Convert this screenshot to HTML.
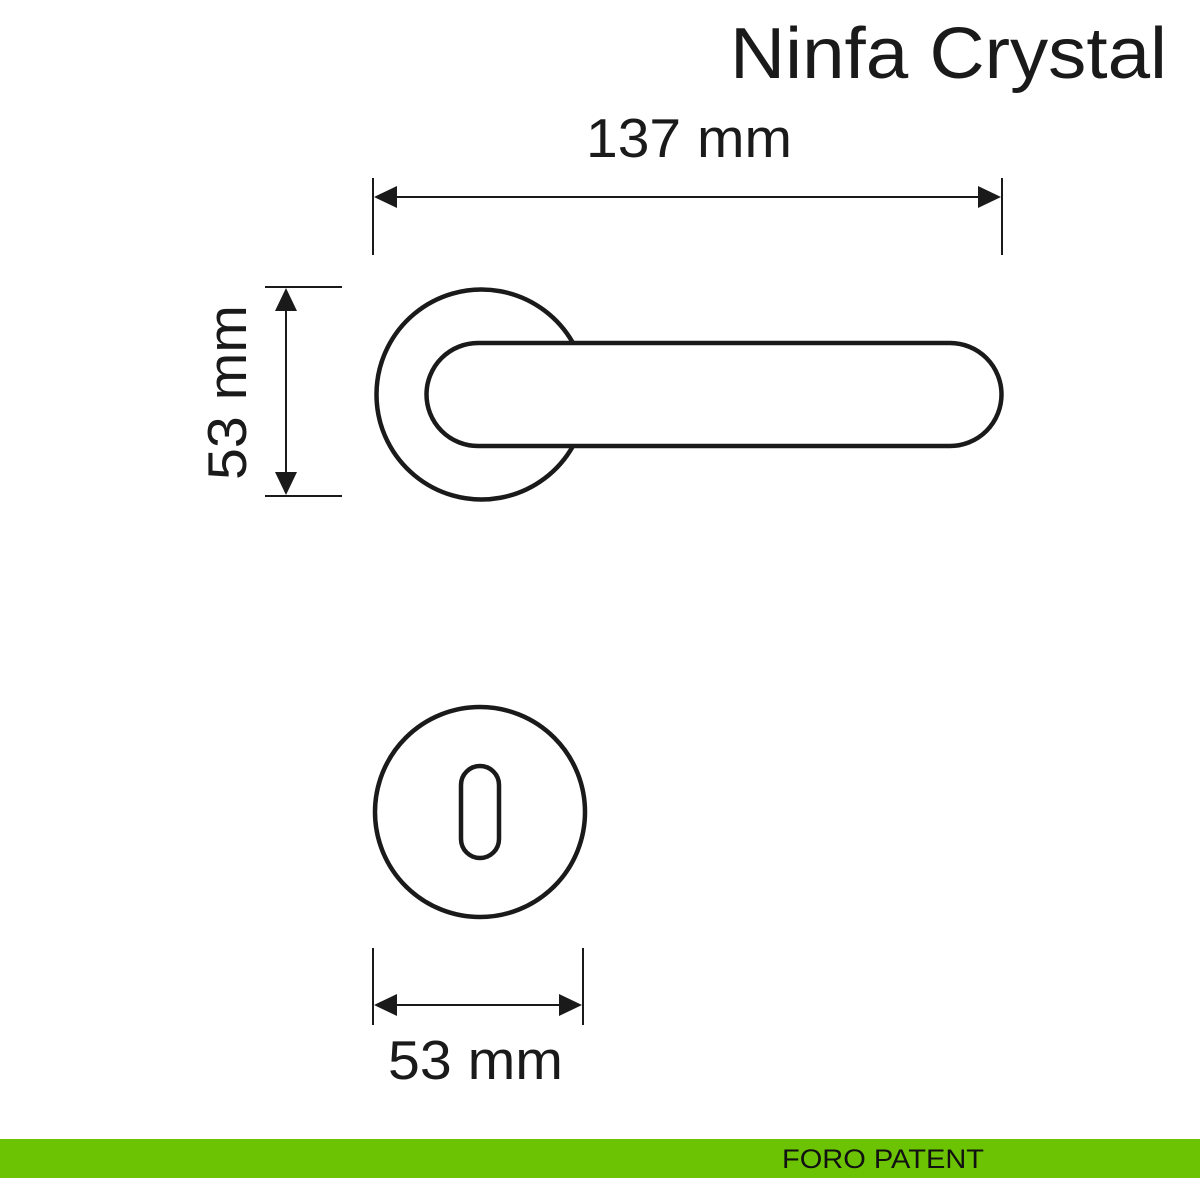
<!DOCTYPE html>
<html><head><style>body{margin:0;background:#fff}svg{display:block}</style></head><body>
<svg width="1200" height="1200" viewBox="0 0 1200 1200" xmlns="http://www.w3.org/2000/svg">
<rect width="1200" height="1200" fill="#fff"/>
<g fill="none" stroke="#1a1a1a" stroke-width="4.5">
<path d="M573,343 A105,105 0 1 0 573,446"/>
<path d="M478,343 L950,343 A51.5,51.5 0 0 1 950,446 L478,446 A51.5,51.5 0 0 1 478,343 Z"/>
<circle cx="480" cy="812" r="105"/>
<rect x="461" y="766" width="38" height="92" rx="19"/>
</g>
<g stroke="#1a1a1a" stroke-width="2">
<line x1="373" y1="178" x2="373" y2="255"/><line x1="1002" y1="178" x2="1002" y2="255"/>
<line x1="390" y1="197" x2="985" y2="197"/>
<line x1="265" y1="287" x2="342" y2="287"/><line x1="265" y1="496" x2="342" y2="496"/>
<line x1="286" y1="305" x2="286" y2="478"/>
<line x1="373" y1="948" x2="373" y2="1025"/><line x1="583" y1="948" x2="583" y2="1025"/>
<line x1="390" y1="1005" x2="566" y2="1005"/>
</g>
<g fill="#1a1a1a">
<polygon points="374,197 397,186 397,208"/><polygon points="1001,197 978,186 978,208"/>
<polygon points="286,288 275,311 297,311"/><polygon points="286,495 275,472 297,472"/>
<polygon points="374,1005 397,994 397,1016"/><polygon points="582,1005 559,994 559,1016"/>
</g>
<g font-family="Liberation Sans, sans-serif" fill="#1a1a1a">
<text x="730" y="78" font-size="72" textLength="437" lengthAdjust="spacingAndGlyphs">Ninfa Crystal</text>
<text x="586" y="157" font-size="55" textLength="206" lengthAdjust="spacingAndGlyphs">137 mm</text>
<text x="388" y="1079" font-size="55" textLength="175" lengthAdjust="spacingAndGlyphs">53 mm</text>
<text transform="translate(246,480) rotate(-90)" font-size="55" textLength="175" lengthAdjust="spacingAndGlyphs">53 mm</text>
</g>
<rect x="0" y="1139" width="1200" height="39" fill="#6cc304"/>
<text x="782" y="1168" font-family="Liberation Sans, sans-serif" font-size="27" textLength="202" lengthAdjust="spacingAndGlyphs" fill="#111">FORO PATENT</text>
</svg>
</body></html>
